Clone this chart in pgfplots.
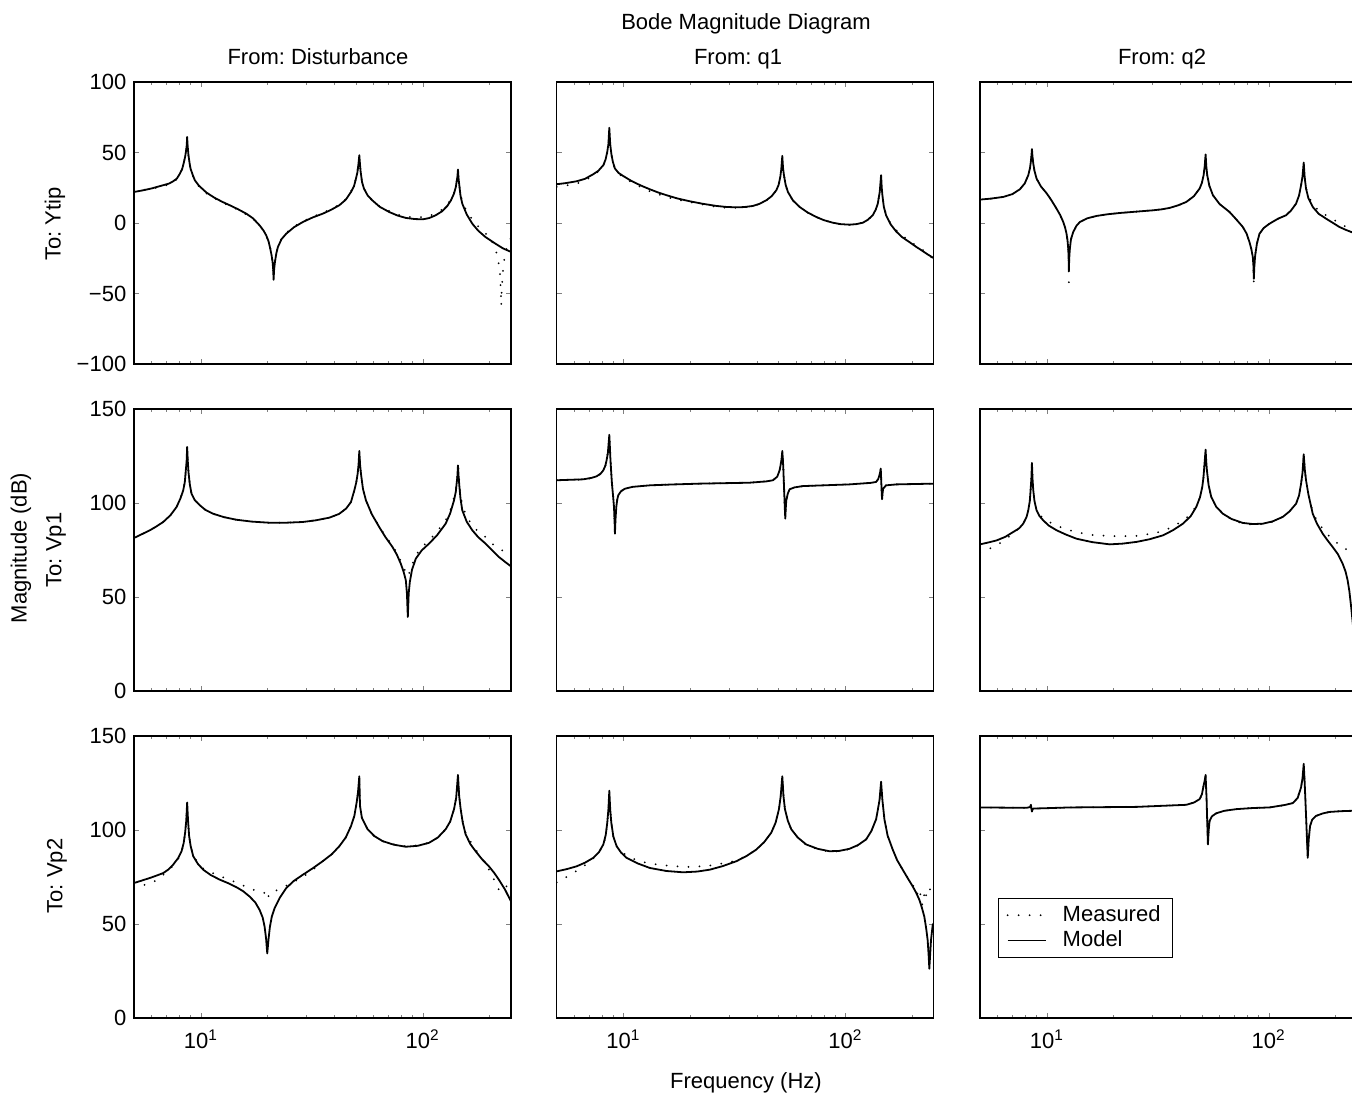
\documentclass[border=0pt]{standalone}
\usepackage{fontspec}
\setmainfont{Liberation Sans}
\usepackage{pgfplots}
\pgfplotsset{compat=1.18}

% 1 px of the reference = 0.5pt; settings shared by all nine panels
\pgfplotsset{
  width=188.5pt, height=141pt, scale only axis,
  xmin=5, xmax=250,
  xtick={10,100}, minor xtick={6,7,8,9,20,30,40,50,60,70,80,90,200},
  tick align=inside, tick pos=both,
  major tick length=2.6pt, minor tick length=1.7pt,
  axis line style={line width=0.6pt},
  xticklabel style={yshift=-2pt},
}
\tikzset{
  meas/.style={black, line width=1pt, line cap=round, dash pattern=on 0pt off 5.5pt},
  mod/.style={black, line width=0.9pt, line join=round},
}

\begin{document}
\frenchspacing
\fontsize{11}{13}\selectfont
\begin{tikzpicture}

% ---------- row 1: To Ytip ----------
\begin{axis}[xmode=log, at={(67pt,-41pt)}, anchor=north west,
  ymin=-100, ymax=100, ytick={-100,-50,0,50,100},
  yticklabels={−100,−50,0,50,100}, xticklabels={}]
\addplot[meas] coordinates {(5,22.5) (5.5,23.5) (6,24.3) (6.77,26) (7.2,27.5) (7.51,29) (7.8,31) (8.05,34.5) (8.25,38.5) (8.39,43) (8.5,47) (8.58,51) (8.68,58) (8.80,47) (8.9,42) (8.99,38) (9.2,33.5) (9.4,30) (9.8,26) (10.6,21) (11.5,17.5) (12.5,14.5) (13.5,12) (14.7,9.5) (16.04,6) (17.2,3) (18.41,-2) (19.2,-5.5) (19.72,-9) (20.2,-13) (20.56,-18) (20.85,-23) (21.06,-27) (21.28,-38) (21.4,-33) (21.58,-27) (21.9,-21) (22.26,-17) (23.1,-11) (24.26,-7) (26.3,-2.5) (28.83,1.2) (32,4.5) (35.44,7.2) (38.5,9.7) (42.11,13) (45,16.8) (47.53,22.5) (49,26.5) (50.04,31.5) (50.8,36) (51.27,41) (51.8,46) (52.2,41) (52.53,36) (53.3,29) (54.36,24.4) (56.5,19.5) (59.25,16) (64,11.8) (70.63,8.5) (77,6) (83.94,4.5) (92,4) (100,4.2) (107,5) (114.5,6.8) (122,9.5) (129.1,13) (134,16.8) (138.4,21.5) (141,26) (142.2,29) (144.2,35) (146.2,27) (148,21) (150.8,15.5) (158,8) (167.3,2.5) (178,-2.5) (192,-7.5) (198.8,-8.8) (204,-12) (209.3,-15.9) (213,-19) (216.6,-23) (219,-27) (221.9,-32.5) (224,-40) (225.8,-58.5) (227.5,-45) (229.7,-34.8) (233,-26) (236.2,-20.6) (243,-15) (250,-10.4)};
\addplot[mod] coordinates {(5,22.0) (5.5,23.2) (6,24.5) (6.77,26.8) (7.2,28) (7.51,29.6) (7.8,31.5) (8.05,35) (8.25,38.5) (8.39,43) (8.5,47) (8.58,51) (8.64,55) (8.68,61) (8.72,55) (8.80,48) (8.9,42.5) (8.99,38.6) (9.2,34) (9.4,30.3) (9.8,26.5) (10.6,21.6) (11.5,18) (12.5,15) (13.5,12.6) (14.7,9.8) (16.04,6.6) (17.2,3.3) (18.41,-1.7) (19.2,-5.5) (19.72,-8.8) (20.2,-13) (20.56,-18.2) (20.85,-23) (21.06,-27.7) (21.2,-33) (21.28,-40.3) (21.4,-33) (21.58,-27.7) (21.9,-21.5) (22.26,-17) (23.1,-11.5) (24.26,-7.6) (26.3,-3) (28.83,0.7) (32,4) (35.44,6.6) (38.5,9.2) (42.11,12.6) (45,16.5) (47.53,22) (49,26) (50.04,31.5) (50.8,36) (51.27,41) (51.8,48.1) (52.2,41) (52.53,36.3) (53.3,29) (54.36,24.4) (56.5,19.5) (59.25,16.1) (64,11.5) (70.63,7.8) (77,5.3) (83.94,3.6) (92,2.8) (100,2.6) (107,3.5) (114.5,5.5) (122,8.2) (129.1,12.1) (134,16) (138.4,20.9) (141,25.5) (142.2,29.2) (143.4,33) (144.2,37.9) (145,32) (146.2,26.8) (148,19.5) (150.8,13.7) (158,6) (167.3,-0.5) (178,-5.5) (192,-10) (212.9,-14.7) (230,-18) (250,-20.5)};
\end{axis}

\begin{axis}[xmode=log, at={(278.35pt,-41pt)}, anchor=north west,
  ymin=-100, ymax=100, ytick={-100,-50,0,50,100},
  yticklabels={}, xticklabels={}]
\addplot[meas] coordinates {(5,25.6) (5.5,26.6) (6.15,28) (6.7,30) (7.31,33.9) (7.7,36.5) (8.11,40.5) (8.3,44.5) (8.45,50) (8.55,55) (8.63,64) (8.71,55) (8.81,49) (8.95,43) (9.15,38) (9.5,34.8) (10,32.5) (10.7,29.5) (11.45,27) (12.3,24.6) (13.15,22.5) (14.3,20.4) (15.63,18.5) (17.5,16.5) (19.89,14.8) (23,13) (26.22,11.4) (29,10.8) (32.26,10.8) (35,11.1) (38.33,12) (41,13.5) (44,16) (46.5,19) (48.81,23) (50,27) (50.88,32.5) (51.4,38) (51.95,46) (52.35,39) (52.84,34) (53.8,27) (55.08,22) (58,16) (62.15,11.4) (67.5,7.5) (73.85,4.3) (80,2) (87.76,0.2) (95,-0.8) (104.3,-1.2) (112,-0.8) (119.8,0.2) (126,2.2) (132.8,5.5) (137,9.5) (139.9,13.7) (142.8,22) (144.8,32) (145.8,25) (146.8,20) (149,12) (152.5,6) (160,-0.5) (169.1,-5) (180,-9) (194.2,-12.5) (208,-16) (222.9,-19) (236,-22.5) (250,-25.5)};
\addplot[mod] coordinates {(5,27.5) (5.5,28.3) (6.15,29.6) (6.7,31.3) (7.31,34.6) (7.7,37) (8.11,41) (8.3,45) (8.45,50.5) (8.55,56) (8.63,67.5) (8.71,56) (8.81,49.3) (8.95,43.5) (9.15,38.6) (9.5,35.5) (10,33.2) (10.7,30.4) (11.45,28) (12.3,25.8) (13.15,23.9) (14.3,21.7) (15.63,19.7) (17.5,17.4) (19.89,15.4) (23,13.5) (26.22,12.1) (29,11.4) (32.26,11.1) (35,11.3) (38.33,12.1) (41,13.6) (44,16.1) (46.5,19) (48.81,23.2) (50,27) (50.88,32.7) (51.4,38) (51.95,47.6) (52.35,39) (52.84,33.9) (53.8,27) (55.08,22) (58,16) (62.15,11.4) (67.5,7.5) (73.85,4.3) (80,2) (87.76,0.2) (95,-0.8) (104.3,-1.2) (112,-0.8) (119.8,0.2) (126,2.2) (132.8,5.5) (137,9.5) (139.9,13.7) (142.8,22) (144.8,33.9) (145.8,25) (146.8,19.7) (149,11.5) (152.5,5.5) (160,-1) (169.1,-5.9) (180,-10) (194.2,-13.5) (208,-16.8) (222.9,-19.9) (236,-22.5) (250,-24.9)};
\end{axis}

\begin{axis}[xmode=log, at={(490pt,-41pt)}, anchor=north west,
  ymin=-100, ymax=100, ytick={-100,-50,0,50,100},
  yticklabels={}, xticklabels={}]
\addplot[meas] coordinates {(5,16.6) (5.6,17.3) (6.37,18.5) (7,20.5) (7.56,23.9) (7.95,28) (8.25,33.9) (8.4,39) (8.48,44) (8.57,50) (8.62,46.5) (8.69,42) (8.8,37) (8.99,31.5) (9.4,26) (10,20.9) (10.5,16) (11.06,10.2) (11.5,5.5) (11.86,0.7) (12.1,-3.5) (12.27,-7.6) (12.4,-12.5) (12.49,-18.2) (12.54,-25) (12.57,-42) (12.62,-25) (12.70,-18.2) (12.85,-11.5) (13.15,-6.4) (13.6,-2) (14.09,0.7) (15.2,3.3) (16.74,5.0) (18.8,6.2) (21.32,7.1) (25.5,8.1) (30.11,9.0) (33,9.7) (35.78,10.7) (39,12.5) (42.51,14.9) (46,19) (48.81,24.4) (50,28.5) (50.88,33.9) (51.45,40) (51.95,47) (52.35,40) (52.84,33.9) (54,26.5) (56.05,19.7) (60,13.5) (66.6,7.8) (71,3) (76.44,-2.8) (79.5,-7.5) (81.9,-13.5) (83.5,-18.5) (84.8,-24.2) (85.3,-30) (85.7,-43) (86.2,-30) (86.9,-23) (88.5,-14.5) (90.88,-7.6) (95,-3.5) (100.8,-0.5) (110,3) (119.8,5.5) (126,8.8) (132.8,13.7) (137,19.5) (139.9,26.8) (142,33) (143.8,41) (145.3,32) (147.3,25) (151,19) (157.9,13.5) (168,8.5) (181.2,5.5) (195,2.5) (208.1,0) (222,-2.5) (235.6,-4) (250,-5)};
\addplot[mod] coordinates {(5,16.6) (5.6,17.3) (6.37,18.5) (7,20.5) (7.56,23.9) (7.95,28) (8.25,33.9) (8.4,39) (8.48,44) (8.53,48) (8.57,52.4) (8.62,47) (8.69,42.2) (8.8,37) (8.99,31.5) (9.4,26) (10,20.9) (10.5,16) (11.06,10.2) (11.5,5.5) (11.86,0.7) (12.1,-3.5) (12.27,-7.6) (12.4,-12.5) (12.49,-18.2) (12.54,-25) (12.57,-33.7) (12.62,-25) (12.70,-18.2) (12.85,-11.5) (13.15,-6.4) (13.6,-2) (14.09,0.7) (15.2,3.3) (16.74,5.0) (18.8,6.2) (21.32,7.1) (25.5,8.1) (30.11,9.0) (33,9.7) (35.78,10.7) (39,12.5) (42.51,14.9) (46,19) (48.81,24.4) (50,28.5) (50.88,33.9) (51.45,40) (51.95,48.6) (52.35,40) (52.84,33.9) (54,26.5) (56.05,19.7) (60,13.5) (66.6,7.8) (71,3) (76.44,-2.8) (79.5,-7.5) (81.9,-13.5) (83.5,-18.5) (84.8,-24.2) (85.3,-30) (85.7,-39.6) (86.2,-30) (86.9,-23) (88.5,-14.5) (90.88,-7.6) (95,-3.5) (100.8,-0.5) (110,3) (119.8,5.5) (126,8.8) (132.8,13.7) (137,19.5) (139.9,26.8) (142,33) (143.8,42.9) (145.3,32) (147.3,24.4) (151,17.5) (157.9,11.4) (168,6.5) (181.2,3.1) (195,0) (208.1,-2.8) (222,-4.8) (235.6,-6.4) (250,-7.6)};
\end{axis}

% ---------- row 2: To Vp1 ----------
\begin{axis}[xmode=log, at={(67pt,-204.5pt)}, anchor=north west,
  ymin=0, ymax=150, ytick={0,50,100,150},
  yticklabels={0,50,100,150}, xticklabels={}]
\addplot[meas] coordinates {(5,81.4) (5.4,83.3) (5.90,85.5) (6.3,87.5) (6.77,89.9) (7.3,93.5) (7.78,97.9) (8.1,102.5) (8.33,106.7) (8.47,111) (8.56,117) (8.63,121.5) (8.68,128) (8.74,121.5) (8.80,116.5) (8.92,110) (9.08,105) (9.4,101.5) (9.90,98.8) (10.5,96.3) (11.36,94.3) (12.7,92.5) (14.46,91.1) (17,90.1) (20.42,89.5) (24,89.5) (28.83,89.9) (33,90.8) (37.97,92.2) (42,94.2) (45.13,97) (47.5,100.5) (49.18,106.7) (50.2,111) (50.92,115.6) (51.4,120.5) (51.8,126) (52.2,120.5) (52.7,115.6) (53.8,107.5) (55.5,101.4) (59,94) (63.7,87.5) (68,82.3) (73.1,77.5) (76.5,73.5) (79.7,69) (82,66) (83.94,63) (84.9,61.5) (85.7,61) (86.5,62) (87.5,63.5) (89.5,67) (93.1,72.2) (99,76.5) (106.8,80.1) (116,84.8) (126.9,90.8) (133,96) (138.4,103) (141,107.5) (142.2,111) (143.3,115) (144.2,122) (145.2,116) (146.2,111) (148,104.5) (150.8,99) (158,92.5) (167.3,88.1) (178,84.8) (192,81.9) (205,78.5) (220.4,75.7) (235,74) (250,73.9)};
\addplot[mod] coordinates {(5,81.4) (5.4,83.3) (5.90,85.5) (6.3,87.5) (6.77,89.9) (7.3,93.5) (7.78,97.9) (8.1,102.5) (8.33,106.7) (8.47,111) (8.56,117.4) (8.63,122) (8.68,129.8) (8.74,122) (8.80,116.5) (8.92,110) (9.08,105) (9.4,101.5) (9.90,98.8) (10.5,96.3) (11.36,94.3) (12.7,92.5) (14.46,91.1) (17,90.1) (20.42,89.5) (24,89.5) (28.83,89.9) (33,90.8) (37.97,92.2) (42,94.2) (45.13,97) (47.5,100.5) (49.18,106.7) (50.2,111) (50.92,115.6) (51.4,120.5) (51.8,127.7) (52.2,120.5) (52.7,115.6) (53.8,107.5) (55.5,101.4) (59,94) (63.7,87.2) (68,81.8) (73.1,76.6) (76.5,72.5) (79.7,67.7) (82,63.5) (83.94,58.9) (84.9,52) (85.7,39.4) (86.5,52) (87.5,58) (89.5,64.5) (93.1,70.4) (99,74.8) (106.8,78.4) (116,82.8) (126.9,89) (133,94.5) (138.4,101.4) (141,106) (142.2,110.3) (143.3,114) (144.2,120) (145.2,114) (146.2,109.4) (148,102.5) (150.8,96.1) (158,90) (167.3,85.5) (178,81.8) (192,78.4) (205,75) (220.4,71.3) (235,68.7) (250,66.3)};
\end{axis}

\begin{axis}[xmode=log, at={(278.35pt,-204.5pt)}, anchor=north west,
  ymin=0, ymax=150, ytick={0,50,100,150},
  yticklabels={}, xticklabels={}]
\addplot[meas] coordinates {(5,112.3) (6.59,112.4) (7.2,113.2) (7.56,114) (7.9,115.5) (8.11,117.4) (8.28,119.8) (8.39,122.7) (8.5,126.5) (8.57,131) (8.63,135) (8.68,130) (8.72,124.5) (8.8,116.5) (8.87,110.3) (8.97,104) (9.06,97.9) (9.11,91) (9.15,85) (9.2,91) (9.28,97.9) (9.37,101.8) (9.47,104.1) (9.75,106.3) (10.15,107.6) (11,108.6) (13.15,109.4) (17,109.9) (22.07,110.3) (37.03,110.8) (44,111.5) (47.16,112.1) (49.3,114) (50.53,117.4) (51.1,120.5) (51.59,123.6) (51.95,126.5) (52.2,124) (52.48,119.1) (52.75,112) (53.03,105) (53.3,98) (53.58,92.5) (53.85,97) (54.14,101.4) (55,105) (56.05,107.3) (59,108.3) (64.33,109) (104.3,109.9) (130,110.7) (137.5,111.2) (140.5,112.7) (142.3,114.7) (143.5,116.5) (144.3,118) (144.8,114) (145.3,109.4) (145.8,105) (146.3,102.5) (147,105) (147.9,107.6) (152.5,109.4) (170,109.9) (250,110.3)};
\addplot[mod] coordinates {(5,112.1) (6.59,112.6) (7.2,113.4) (7.56,114.2) (7.9,115.7) (8.11,117.4) (8.28,119.8) (8.39,122.7) (8.5,126.5) (8.57,131.6) (8.63,136.3) (8.68,130) (8.72,124.5) (8.8,116.5) (8.87,110.3) (8.97,104) (9.06,97.9) (9.11,91) (9.15,83.7) (9.2,91) (9.28,97.9) (9.37,101.8) (9.47,104.1) (9.75,106.3) (10.15,107.6) (11,108.6) (13.15,109.4) (17,109.9) (22.07,110.3) (37.03,110.8) (44,111.5) (47.16,112.1) (49.3,114) (50.53,117.4) (51.1,120.5) (51.59,123.6) (51.95,127.7) (52.2,124) (52.48,119.1) (52.75,112) (53.03,105) (53.3,98) (53.58,91.7) (53.85,97) (54.14,101.4) (55,105) (56.05,107.3) (59,108.3) (64.33,109) (104.3,109.9) (130,110.7) (137.5,111.2) (140.5,112.7) (142.3,114.7) (143.5,116.5) (144.3,118.3) (144.8,114) (145.3,109.4) (145.8,105) (146.3,102) (147,105) (147.9,107.6) (152.5,109.4) (170,109.9) (250,110.3)};
\end{axis}

\begin{axis}[xmode=log, at={(490pt,-204.5pt)}, anchor=north west,
  ymin=0, ymax=150, ytick={0,50,100,150},
  yticklabels={}, xticklabels={}]
\addplot[meas] coordinates {(5,73.9) (5.45,75.4) (5.94,77.5) (6.5,80.5) (7.06,84) (7.5,86.5) (7.83,89) (8.1,92.5) (8.25,96.1) (8.38,101) (8.45,106.7) (8.52,113) (8.57,120) (8.62,113) (8.69,106.7) (8.8,101) (8.99,96.5) (9.25,94) (9.63,91.8) (10.2,90) (11.06,88) (12.2,86) (13.61,84.5) (16,83) (19.22,82.5) (22,82.3) (25.33,82.5) (29,83.5) (33.39,85) (37,87.5) (41.07,90.5) (44.5,94) (47.16,98.5) (49,103) (50.18,108.5) (50.8,113.5) (51.23,119.1) (51.95,127) (52.3,122) (52.66,117.4) (53.6,109.5) (55.08,103.2) (58,98) (62.15,94.3) (68,91.2) (76.44,89) (85,88.5) (94.05,88.8) (104,90) (115.7,92.6) (124,95.5) (132.8,99.6) (137,104) (139.9,110.3) (142,116) (143.8,125) (145.5,117.5) (147.3,112.1) (151,104.5) (157.9,95.5) (165,90.5) (175.1,86.3) (185,83) (194.2,80.5) (205,78.5) (215.4,77) (225,75) (235.6,73) (250,71)};
\addplot[mod] coordinates {(5,78) (5.45,79) (5.94,80.1) (6.5,82) (7.06,84.6) (7.5,86.5) (7.83,89) (8.1,92.5) (8.25,96.1) (8.38,101) (8.45,106.7) (8.52,113) (8.57,121.3) (8.62,113) (8.69,106.7) (8.8,101) (8.99,96.1) (9.25,93.2) (9.63,90.8) (10.2,88) (11.06,85.5) (12.2,83.2) (13.61,81) (16,79.2) (19.22,78) (22,78.4) (25.33,79.3) (29,80.7) (33.39,82.8) (37,85.5) (41.07,89) (44.5,93) (47.16,97.9) (49,103) (50.18,108.5) (50.8,113.5) (51.23,119.1) (51.95,128.4) (52.3,122) (52.66,117.4) (53.6,109.5) (55.08,103.2) (58,98) (62.15,94.3) (68,91.5) (76.44,89.4) (85,88.8) (94.05,89) (104,90.2) (115.7,92.6) (124,95.5) (132.8,99.6) (137,104) (139.9,110.3) (142,116) (143.8,125.9) (145.5,117.5) (147.3,112.1) (151,104.5) (157.9,94.3) (165,89) (175.1,83.7) (185,79.8) (194.2,76.6) (205,72.8) (215.4,67.7) (222,63.5) (226.8,58.9) (231,53) (235.6,44) (242,30) (250,10)};
\end{axis}

% ---------- row 3: To Vp2 ----------
\begin{axis}[xmode=log, at={(67pt,-368pt)}, anchor=north west,
  ymin=0, ymax=150, ytick={0,50,100,150},
  yticklabels={0,50,100,150},
  xticklabels={10\textsuperscript{1},10\textsuperscript{2}}]
\addplot[meas] coordinates {(5,69.1) (5.45,70.4) (6,72) (6.5,74) (6.77,76.2) (7.15,78.5) (7.51,81) (7.9,84.5) (8.19,88.5) (8.37,93) (8.50,98.6) (8.6,105) (8.68,113) (8.76,105) (8.86,96.8) (9.0,91.5) (9.24,86.5) (9.7,82.5) (10.25,79.5) (11.1,77.5) (12.17,75.5) (13.3,73.8) (14.46,72.1) (15.5,70.5) (16.6,69.1) (17.6,67.8) (18.41,67.2) (19.2,66.6) (19.93,66.4) (20.1,63.5) (20.3,66.4) (20.9,67) (21.5,67.5) (22.7,68.5) (24.26,70.3) (26.3,72.5) (28.83,75) (32,78.9) (35.44,83.4) (39,87.2) (42.11,91.4) (45,96) (47.53,102.1) (49.2,107.5) (50.39,114) (51.1,119.5) (51.8,127) (52.17,112.9) (53.2,106.5) (56.46,100.4) (60.5,96.8) (65.94,94.1) (74,92.4) (83.94,91.3) (95,91.8) (106.8,93.2) (117,96) (126.9,100.4) (133,104.5) (138.4,111.1) (141.5,117) (144.2,127.5) (146,118) (148.3,111.5) (151.5,104.5) (156.1,98.6) (164,94) (173.2,89.6) (185,84.5) (198.8,78.9) (208,74.5) (215,70.5) (221,68) (227,67.3) (231,68) (236,69.1) (243,71.5) (250,74.5)};
\addplot[mod] coordinates {(5,71.8) (5.45,73.2) (5.90,74.5) (6.3,75.7) (6.77,77.1) (7.15,79) (7.51,81.6) (7.9,85) (8.19,88.7) (8.37,93) (8.50,98.6) (8.6,105) (8.68,114.6) (8.76,105) (8.86,96.8) (9.0,91.5) (9.24,86.1) (9.7,82) (10.25,78.9) (11.1,76) (12.17,73.6) (13.3,71.7) (14.46,69.6) (15.5,67.5) (16.6,64.6) (17.6,61.5) (18.41,57.5) (19,53.5) (19.39,48.6) (19.7,42) (19.93,34.3) (20.2,42) (20.49,48.6) (20.9,54) (21.5,58.4) (22.7,64) (24.26,69.1) (26.3,73) (28.83,76.2) (32,79.7) (35.44,83.4) (39,87.2) (42.11,91.4) (45,96) (47.53,102.1) (49.2,107.5) (50.39,114.6) (51.1,120) (51.8,128.6) (52.17,112.9) (53.2,106.5) (56.46,100.4) (60.5,96.8) (65.94,94.1) (74,92.2) (83.94,91.1) (95,91.6) (106.8,93.2) (117,96) (126.9,100.4) (133,104.5) (138.4,111.1) (141.5,117) (144.2,129.3) (146,118) (148.3,111.1) (151.5,104) (156.1,97.7) (164,92.5) (173.2,88.7) (185,84.5) (198.8,80.7) (210,77.2) (220.4,73.6) (235,68.3) (250,62)};
\end{axis}

\begin{axis}[xmode=log, at={(278.35pt,-368pt)}, anchor=north west,
  ymin=0, ymax=150, ytick={0,50,100,150},
  yticklabels={},
  xticklabels={10\textsuperscript{1},10\textsuperscript{2}}]
\addplot[meas] coordinates {(5,72.1) (5.6,75.4) (6.1,78) (6.6,80.7) (7.1,83.5) (7.6,87) (8.11,91.5) (8.32,97) (8.45,103.9) (8.55,110.5) (8.63,119) (8.71,110.5) (8.81,103.9) (9.0,96.5) (9.31,91.4) (9.75,88.5) (10.32,86.5) (11,84.8) (11.8,83.4) (13,82.3) (14.2,81.6) (16,81) (18.57,80.4) (21.5,80.5) (24.48,81.1) (28,82.3) (31.5,83.4) (36,86.3) (39.68,89.6) (43,93.5) (46.35,98.6) (48.5,104) (50.18,111.1) (51.1,118) (51.95,127) (52.6,118) (53.39,111.1) (55,105) (57.02,100.4) (61,96) (66.6,92) (75,89.8) (84.8,88.5) (94,88.7) (104.3,89.8) (114,91.8) (124,95) (131,99.5) (137.5,105.7) (139.9,110.5) (142.5,116) (144.8,124) (146.8,116) (149.9,105.7) (155,97) (163.4,89.6) (171,84) (181.2,78.9) (190,75) (201.1,70.9) (206,68) (210,65.5) (213,67.5) (215.4,64.5) (218,66) (220,63.7) (222,60) (224,62.5) (226,65) (227,66.4) (229,63.5) (232,66) (234,68) (236,69.1) (240,68) (243,70) (246,69.5) (250,70.9)};
\addplot[mod] coordinates {(5,78) (5.55,79.2) (6.15,80.7) (6.7,82.6) (7.31,85.2) (7.75,88.2) (8.11,92.3) (8.32,97.5) (8.45,103.9) (8.55,111) (8.63,120.9) (8.71,111) (8.81,103.9) (9.0,96.5) (9.31,91.4) (9.75,88) (10.32,85.2) (11.6,82.2) (13.15,79.8) (15.6,78.2) (18.57,77.5) (21.5,77.9) (24.48,78.9) (28,80.8) (32.26,83.4) (36,86.3) (39.68,89.6) (43,93.5) (46.35,98.6) (48.5,104) (50.18,111.1) (51.1,118) (51.95,128.6) (52.6,118) (53.39,111.1) (55,105) (57.02,100.4) (61,96) (66.6,92.3) (75,90) (84.8,88.7) (94,88.9) (104.3,90) (114,92) (124,95) (131,99.5) (137.5,105.7) (139.9,110.5) (142.5,116) (144.8,125.7) (146.8,116) (149.9,105.7) (155,97) (163.4,89.6) (171,84) (181.2,78.9) (190,74.8) (201.1,70) (208,66.8) (215.4,62.9) (221,58.8) (226.8,53.9) (231,48) (234.8,41.4) (237,34) (238.9,26.2) (241,34) (243.1,41.4) (247.4,49.5) (250,50.4)};
\end{axis}

\begin{axis}[xmode=log, at={(490pt,-368pt)}, anchor=north west,
  ymin=0, ymax=150, ytick={0,50,100,150},
  yticklabels={},
  xticklabels={10\textsuperscript{1},10\textsuperscript{2}},
  legend style={at={(0.048,0.4255)}, anchor=north west, draw=black, line width=0.6pt,
    fill=white, inner xsep=4pt, inner ysep=1.5pt, row sep=-1pt, column sep=6pt,
    font=\fontsize{11}{13}\selectfont},
  legend cell align=left,
  legend image code/.code={\draw[#1] (0pt,0pt) -- (19pt,0pt);}]
\addplot[meas] coordinates {(5,112) (8.11,111.8) (8.4,112.2) (8.48,113.2) (8.53,111) (8.57,110) (8.62,110.8) (8.69,111.4) (12.7,112) (25.33,112.3) (42.51,113.4) (46,114.6) (48.81,116.4) (50,119) (50.88,123.6) (51.5,126.5) (51.95,128.5) (52.2,123) (52.48,116.4) (52.85,104) (53.21,93) (53.6,99.5) (54.14,104.8) (55.5,107.3) (58.01,108.9) (63,110.2) (71.36,111.1) (85,111.7) (100.8,112) (118,113.3) (128.3,114.3) (135,117) (139.9,122.7) (142,127.5) (143.8,134.5) (145,127) (146.3,116.4) (148.2,100) (149.9,86) (151.5,95) (153.6,102.1) (157,105.5) (163.4,107.5) (175,108.8) (187.6,109.6) (210,110) (235.6,110.2) (250,110.3)};
\addplot[mod] coordinates {(5,112) (8.11,111.8) (8.4,112.2) (8.48,113.4) (8.53,111) (8.57,109.8) (8.62,110.8) (8.69,111.4) (12.7,112) (25.33,112.3) (42.51,113.4) (46,114.6) (48.81,116.4) (50,119) (50.88,123.6) (51.5,126.5) (51.95,129.3) (52.2,123) (52.48,116.4) (52.85,104) (53.21,92.3) (53.6,99.5) (54.14,104.8) (55.5,107.3) (58.01,108.9) (63,110.2) (71.36,111.1) (85,111.7) (100.8,112) (118,113.3) (128.3,114.3) (135,117) (139.9,122.7) (142,127.5) (143.8,135.2) (145,127) (146.3,116.4) (148.2,100) (149.9,85.2) (151.5,95) (153.6,102.1) (157,105.5) (163.4,107.5) (175,108.8) (187.6,109.6) (210,110) (235.6,110.2) (250,110.3)};
\legend{Measured, Model}
\end{axis}

% ---------- titles and labels ----------
\node[anchor=base] at (373pt,-15pt) {Bode Magnitude Diagram};
\node[anchor=base] at (159pt,-32.5pt) {From: Disturbance};
\node[anchor=base] at (369pt,-32.5pt) {From: q1};
\node[anchor=base] at (581pt,-32.5pt) {From: q2};
\node[rotate=90] at (27.5pt,-112pt) {To: Ytip};
\node[rotate=90] at (28pt,-275pt) {To: Vp1};
\node[rotate=90] at (28.5pt,-438pt) {To: Vp2};
\node[rotate=90] at (10.5pt,-274pt) {Magnitude (dB)};
\node at (373pt,-541.5pt) {Frequency (Hz)};

\pgfresetboundingbox
\useasboundingbox (0pt,0pt) rectangle (676pt,-548pt);
\end{tikzpicture}
\end{document}
